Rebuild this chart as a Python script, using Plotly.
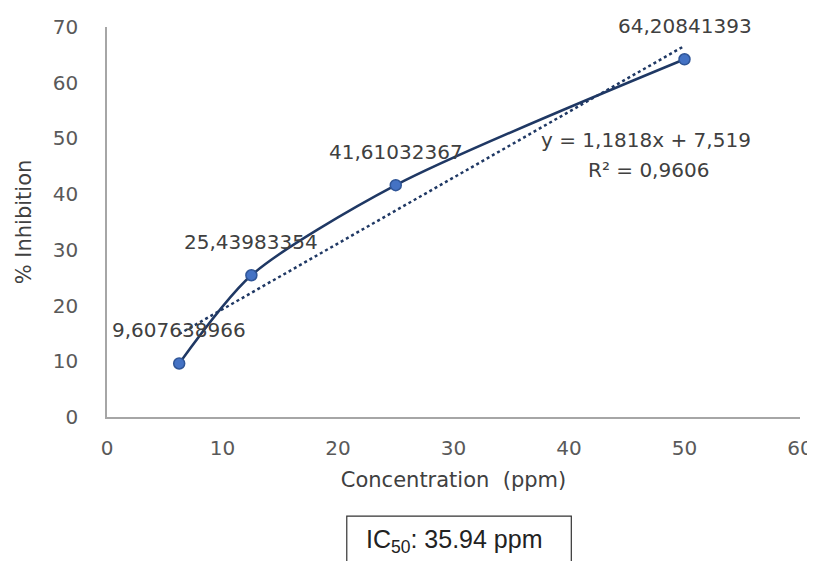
import numpy as np
import plotly.graph_objects as go

concentration = [6.25, 12.5, 25, 50]
inhibition = [9.607638966, 25.43983354, 41.61032367, 64.20841393]
point_labels = ["9,607638966", "25,43983354", "41,61032367", "64,20841393"]
x_ticks = [0, 10, 20, 30, 40, 50, 60]
y_ticks = [0, 10, 20, 30, 40, 50, 60, 70]
equation_text = "y = 1,1818x + 7,519"
r2_text = "R² = 0,9606"
ic50_text = "IC<sub>50</sub>: 35.94 ppm"

slope, intercept = np.polyfit(concentration, inhibition, 1)
trend_x = [min(concentration), max(concentration)]
trend_y = [slope * v + intercept for v in trend_x]

FONT = "DejaVu Sans"
GRAY = "#595959"
DARK = "#404040"
NAVY = "#1f3864"

fig = go.Figure()
fig.add_trace(go.Scatter(
    x=trend_x, y=trend_y, mode="lines",
    line=dict(color=NAVY, width=2.5, dash="dot"),
    hoverinfo="skip", showlegend=False))
fig.add_trace(go.Scatter(
    x=concentration, y=inhibition, mode="lines+markers",
    line=dict(color=NAVY, width=2.5, shape="spline", smoothing=0.75),
    marker=dict(size=11, color="#4472c4", line=dict(color="#2f5597", width=1.5)),
    showlegend=False))

for xv, yv, lab in zip(concentration, inhibition, point_labels):
    fig.add_annotation(x=xv, y=yv, text=lab, showarrow=False, yshift=33,
                       xanchor="center", yanchor="middle",
                       font=dict(family=FONT, size=20, color=DARK))

fig.add_annotation(x=0.778, y=0.710, xref="paper", yref="paper",
                   xanchor="center", yanchor="middle",
                   text=equation_text, showarrow=False,
                   font=dict(family=FONT, size=20, color=DARK))
fig.add_annotation(x=0.782, y=0.633, xref="paper", yref="paper",
                   xanchor="center", yanchor="middle",
                   text=r2_text, showarrow=False,
                   font=dict(family=FONT, size=20, color=DARK))

# IC50 box (extends past bottom edge as in the reference)
fig.add_shape(type="rect", xref="paper", yref="paper",
              x0=0.346, x1=0.670, y0=-0.42, y1=-0.254,
              line=dict(color="#333333", width=1.2), fillcolor="white")
fig.add_annotation(x=0.502, y=-0.318, xref="paper", yref="paper",
                   xanchor="center", yanchor="middle",
                   text=ic50_text, showarrow=False,
                   font=dict(family="Liberation Sans", size=25, color="#222222"))

fig.update_layout(
    width=807, height=553,
    margin=dict(l=99, r=15, t=19, b=144, autoexpand=False),
    paper_bgcolor="white", plot_bgcolor="white",
    font=dict(family=FONT, color=GRAY, size=18),
    xaxis=dict(range=[0, 60], tickvals=x_ticks, showgrid=False, zeroline=False,
               showline=True, linecolor="#a6a6a6", linewidth=1.5,
               ticks="", ticklabelstandoff=12, automargin=False,
               tickfont=dict(family=FONT, size=20, color=GRAY),
               title=dict(text="Concentration  (ppm)", standoff=14,
                          font=dict(family=FONT, size=21, color=DARK))),
    yaxis=dict(range=[0, 70], tickvals=y_ticks, showgrid=False, zeroline=False,
               showline=True, linecolor="#a6a6a6", linewidth=1.5,
               ticks="", ticklabelstandoff=23, automargin=False,
               tickfont=dict(family=FONT, size=20, color=GRAY),
               title=dict(text="% Inhibition", standoff=15,
                          font=dict(family=FONT, size=21, color=DARK))),
)

fig.write_html("out.html")
